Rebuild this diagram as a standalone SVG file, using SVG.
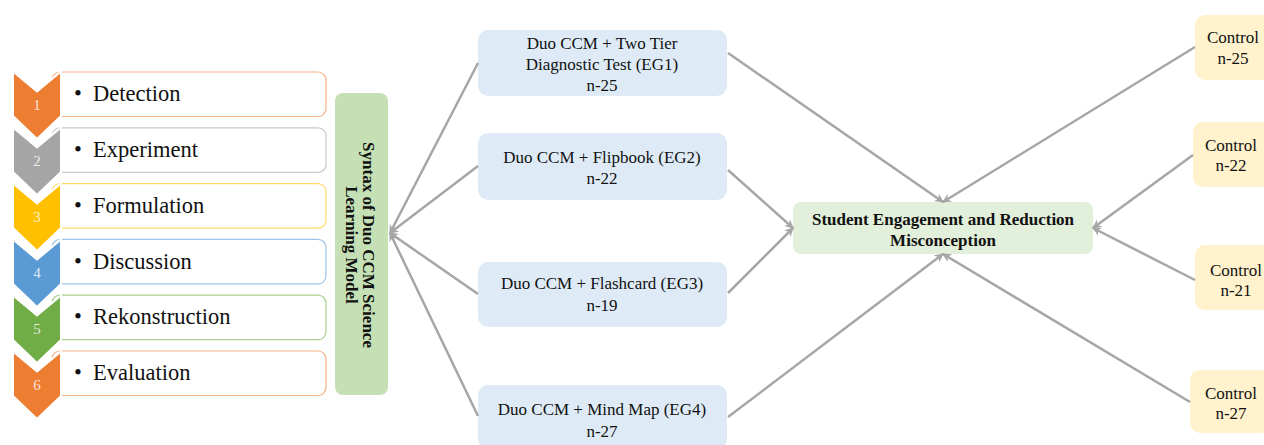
<svg xmlns="http://www.w3.org/2000/svg" width="1264" height="445" viewBox="0 0 1264 445">
<style>
.step{fill:#fff;stroke-width:1.2}
.stxt{font-family:"Liberation Serif",serif;font-size:22.5px;fill:#111}
.num{font-family:"Liberation Serif",serif;font-size:15px;fill:#fff;fill-opacity:0.8;text-anchor:middle}
.chev{stroke:#fff;stroke-width:2}
.eg{fill:#DEEBF7}
.ctl{fill:#FFF2CC}
.t{font-family:"Liberation Serif",serif;font-size:17px;fill:#111;text-anchor:middle}
.b{font-weight:bold}
.con line{stroke:#A6A6A6;stroke-width:2.5;marker-end:url(#ah)}
</style>
<defs>
<marker id="ah" viewBox="0 0 10 10" refX="9" refY="5" markerUnits="userSpaceOnUse" markerWidth="10" markerHeight="9" orient="auto">
<path d="M0,0 L10,5 L0,10 L3,5 z" fill="#A6A6A6"/>
</marker>
</defs>
<rect width="1264" height="445" fill="#fff"/>

<g id="step1">
<rect class="step" x="52" y="72" width="274" height="44.5" rx="8" stroke="#F4B183"/>
<path class="chev" fill="#ED7D31" d="M13,71.5 L37,91.5 L61,71.5 L61,116 L37,139 L13,116 Z"/>
<text class="num" x="37" y="109.5">1</text>
<text class="stxt" x="74" y="101">•</text><text class="stxt" x="93" y="101">Detection</text>
</g>
<g id="step2">
<rect class="step" x="52" y="127.8" width="274" height="44.5" rx="8" stroke="#C9C9C9"/>
<path class="chev" fill="#A5A5A5" d="M13,127.5 L37,147.5 L61,127.5 L61,172 L37,195 L13,172 Z"/>
<text class="num" x="37" y="165.5">2</text>
<text class="stxt" x="74" y="157">•</text><text class="stxt" x="93" y="157">Experiment</text>
</g>
<g id="step3">
<rect class="step" x="52" y="183.6" width="274" height="44.5" rx="8" stroke="#FFD966"/>
<path class="chev" fill="#FFC000" d="M13,183.5 L37,203.5 L61,183.5 L61,228 L37,251 L13,228 Z"/>
<text class="num" x="37" y="221.5">3</text>
<text class="stxt" x="74" y="212.5">•</text><text class="stxt" x="93" y="212.5">Formulation</text>
</g>
<g id="step4">
<rect class="step" x="52" y="239.4" width="274" height="44.5" rx="8" stroke="#9DC3E6"/>
<path class="chev" fill="#5B9BD5" d="M13,239.5 L37,259.5 L61,239.5 L61,284 L37,307 L13,284 Z"/>
<text class="num" x="37" y="277.5">4</text>
<text class="stxt" x="74" y="268.5">•</text><text class="stxt" x="93" y="268.5">Discussion</text>
</g>
<g id="step5">
<rect class="step" x="52" y="295.2" width="274" height="44.5" rx="8" stroke="#A9D18E"/>
<path class="chev" fill="#70AD47" d="M13,295.5 L37,315.5 L61,295.5 L61,340 L37,363 L13,340 Z"/>
<text class="num" x="37" y="333.5">5</text>
<text class="stxt" x="74" y="324">•</text><text class="stxt" x="93" y="324">Rekonstruction</text>
</g>
<g id="step6">
<rect class="step" x="52" y="351" width="274" height="44.5" rx="8" stroke="#F4B183"/>
<path class="chev" fill="#ED7D31" d="M13,351.5 L37,371.5 L61,351.5 L61,396 L37,419 L13,396 Z"/>
<text class="num" x="37" y="389.5">6</text>
<text class="stxt" x="74" y="380">•</text><text class="stxt" x="93" y="380">Evaluation</text>
</g>

<g id="syntax">
<rect x="335" y="93" width="53" height="302" rx="8" fill="#C5E0B4"/>
<g transform="translate(363,245) rotate(90)">
<text class="t b" x="0" y="0">Syntax of Duo CCM Science</text>
<text class="t b" x="0" y="17">Learning Model</text>
</g>
</g>

<g id="eg1">
<rect class="eg" x="478" y="30" width="249" height="66" rx="10"/>
<text class="t" x="602" y="49">Duo CCM + Two Tier</text>
<text class="t" x="602" y="70">Diagnostic Test (EG1)</text>
<text class="t" x="602" y="91">n-25</text>
</g>
<g id="eg2">
<rect class="eg" x="478" y="133" width="249" height="67" rx="10"/>
<text class="t" x="602" y="162.5">Duo CCM + Flipbook (EG2)</text>
<text class="t" x="602" y="184">n-22</text>
</g>
<g id="eg3">
<rect class="eg" x="478" y="262" width="249" height="65" rx="10"/>
<text class="t" x="602" y="289">Duo CCM + Flashcard (EG3)</text>
<text class="t" x="602" y="311">n-19</text>
</g>
<g id="eg4">
<rect class="eg" x="478" y="385" width="249" height="64" rx="10"/>
<text class="t" x="602" y="415">Duo CCM + Mind Map (EG4)</text>
<text class="t" x="602" y="437">n-27</text>
</g>

<g id="outcome">
<rect x="793" y="202" width="300" height="52" rx="8" fill="#E2EFDA"/>
<text class="t b" x="943" y="225">Student Engagement and Reduction</text>
<text class="t b" x="943" y="246">Misconception</text>
</g>

<g id="control25">
<rect class="ctl" x="1195" y="15" width="80" height="65" rx="10"/>
<text class="t" x="1233" y="43">Control</text>
<text class="t" x="1233" y="64">n-25</text>
</g>
<g id="control22">
<rect class="ctl" x="1193" y="122" width="80" height="65" rx="10"/>
<text class="t" x="1231" y="151">Control</text>
<text class="t" x="1231" y="171">n-22</text>
</g>
<g id="control21">
<rect class="ctl" x="1195" y="245" width="80" height="65" rx="10"/>
<text class="t" x="1236" y="276">Control</text>
<text class="t" x="1236" y="296">n-21</text>
</g>
<g id="control27">
<rect class="ctl" x="1190" y="370" width="80" height="63" rx="10"/>
<text class="t" x="1231" y="399">Control</text>
<text class="t" x="1231" y="419">n-27</text>
</g>

<g id="connectors" class="con">
<line x1="478" y1="63" x2="390" y2="233"/>
<line x1="478" y1="166" x2="390" y2="233"/>
<line x1="478" y1="294" x2="390" y2="233"/>
<line x1="478" y1="416" x2="390" y2="233"/>
<line x1="728" y1="53" x2="943" y2="202"/>
<line x1="728" y1="170" x2="793" y2="228"/>
<line x1="728" y1="293" x2="793" y2="228"/>
<line x1="728" y1="417" x2="943" y2="254"/>
<line x1="1195" y1="47" x2="943" y2="202"/>
<line x1="1193" y1="155" x2="1093" y2="228"/>
<line x1="1195" y1="280" x2="1093" y2="228"/>
<line x1="1190" y1="402" x2="943" y2="254"/>
</g>
</svg>
